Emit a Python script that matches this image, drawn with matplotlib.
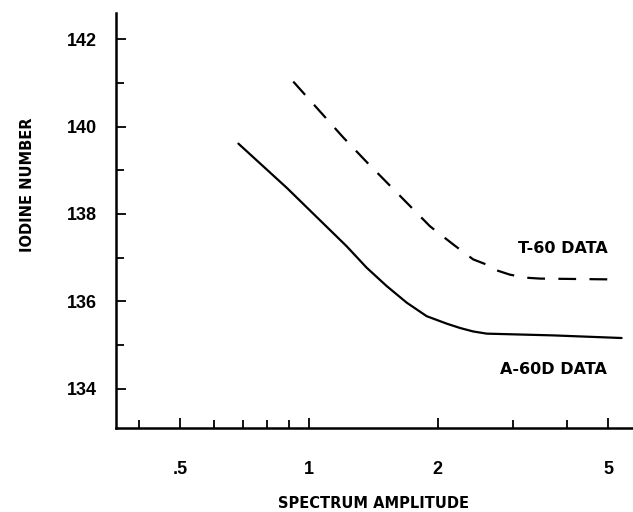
import matplotlib
matplotlib.use("Agg")
from matplotlib import pyplot as plt
from matplotlib.ticker import FixedLocator, FixedFormatter, NullFormatter

# values (x is log scale)
a60_x = [0.684, 0.887, 1.225, 1.364, 1.519, 1.692, 1.884, 2.097, 2.254, 2.42, 2.603, 3.72, 5.38]
a60_y = [139.61, 138.60, 137.26, 136.77, 136.35, 135.97, 135.66, 135.49, 135.39, 135.31, 135.26, 135.22, 135.16]

t60_x = [0.919, 1.203, 1.364, 1.676, 1.917, 2.175, 2.42, 2.603, 2.745, 2.95, 3.225, 3.47, 5.28]
t60_y = [141.03, 139.75, 139.19, 138.30, 137.72, 137.30, 136.96, 136.84, 136.71, 136.61, 136.54, 136.52, 136.50]

x_major = [0.5, 1, 2, 5]
x_major_labels = [".5", "1", "2", "5"]
x_minor = [0.4, 0.6, 0.7, 0.8, 0.9, 3, 4]
y_major = [134, 136, 138, 140, 142]
y_minor = [135, 137, 139, 141]

plt.rcParams['font.family'] = ['Liberation Sans', 'DejaVu Sans']
plt.rcParams['font.weight'] = 'bold'

fig = plt.figure(figsize=(6.33, 5.12), dpi=100)
ax = fig.add_axes([116 / 633, 84 / 512, 517 / 633, 415 / 512])

ax.plot(a60_x, a60_y, color="black", lw=1.6, solid_capstyle="round", solid_joinstyle="round")
ax.plot(t60_x, t60_y, color="black", lw=1.6, dashes=(8, 6))

ax.set_xscale("log")
ax.set_xlim(0.354, 5.72)
ax.set_ylim(133.1, 142.6)

ax.xaxis.set_major_locator(FixedLocator(x_major))
ax.xaxis.set_major_formatter(FixedFormatter(x_major_labels))
ax.xaxis.set_minor_locator(FixedLocator(x_minor))
ax.xaxis.set_minor_formatter(NullFormatter())
ax.yaxis.set_major_locator(FixedLocator(y_major))
ax.yaxis.set_minor_locator(FixedLocator(y_minor))

for s in ["top", "right"]:
    ax.spines[s].set_visible(False)
for s in ["left", "bottom"]:
    ax.spines[s].set_linewidth(1.8)

ax.tick_params(axis="both", which="both", direction="in", width=1.3, labelsize=13)
ax.tick_params(axis="x", which="major", length=7, pad=24)
ax.tick_params(axis="x", which="minor", length=6)
ax.tick_params(axis="y", which="major", length=7, pad=14)
ax.tick_params(axis="y", which="minor", length=6)

# annotation and axis titles: wider, heavier face like the scan
ax.text(3.92, 137.21, "T-60 DATA", fontsize=11.5, fontweight="bold", family="DejaVu Sans",
        ha="center", va="center")
ax.text(3.72, 134.44, "A-60D DATA", fontsize=11.5, fontweight="bold", family="DejaVu Sans",
        ha="center", va="center")

fig.text(374 / 633, 1 - 503 / 512, "SPECTRUM AMPLITUDE", fontsize=10.5, fontweight="bold",
         family="DejaVu Sans", ha="center", va="center")
fig.text(28 / 633, 1 - 185 / 512, "IODINE NUMBER", fontsize=10.5, fontweight="bold",
         family="DejaVu Sans", rotation=90, ha="center", va="center")

fig.savefig("out.png", dpi=100)
